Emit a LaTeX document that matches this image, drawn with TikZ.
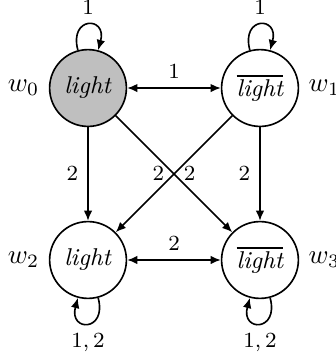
\documentclass[tikz,border=0pt]{standalone}
\usetikzlibrary{arrows.meta}
\begin{document}
\begin{tikzpicture}[>={Latex[length=3.8pt,width=3.2pt]},
  world/.style={circle,draw,semithick,minimum size=1cm,inner sep=0pt,font=\small},
  conn/.style={semithick},
  lab/.style={font=\footnotesize},
  toploop/.style={out=105,in=75,min distance=4.6mm,max distance=4.6mm},
  botloop/.style={out=-75,in=-105,min distance=4.6mm,max distance=4.6mm}]
\useasboundingbox (0,0) rectangle (4.362,4.635);
\node[world,fill=gray!50,label=left:$w_0$] (w0) at (1.146,3.489) {\textit{light}};
\node[world,label=right:$w_1$] (w1) at (3.385,3.489) {$\overline{\textit{light}}$};
\node[world,label=left:$w_2$] (w2) at (1.146,1.25) {\textit{light}};
\node[world,label=right:$w_3$] (w3) at (3.385,1.25) {$\overline{\textit{light}}$};
\draw[conn,<->] (w0) -- node[lab,above]{$1$} (w1);
\draw[conn,<->] (w2) -- node[lab,above]{$2$} (w3);
\draw[conn,->] (w0) -- node[lab,left]{$2$} (w2);
\draw[conn,->] (w1) -- node[lab,left]{$2$} (w3);
\draw[conn,->] (w0) -- node[lab,left]{$2$} (w3);
\draw[conn,->] (w1) -- node[lab,right]{$2$} (w2);
\path[conn,->] (w0) edge[toploop] node[lab,above]{$1$} (w0);
\path[conn,->] (w1) edge[toploop] node[lab,above]{$1$} (w1);
\path[conn,->] (w2) edge[botloop] node[lab,below]{$1,2$} (w2);
\path[conn,->] (w3) edge[botloop] node[lab,below]{$1,2$} (w3);
\end{tikzpicture}
\end{document}
